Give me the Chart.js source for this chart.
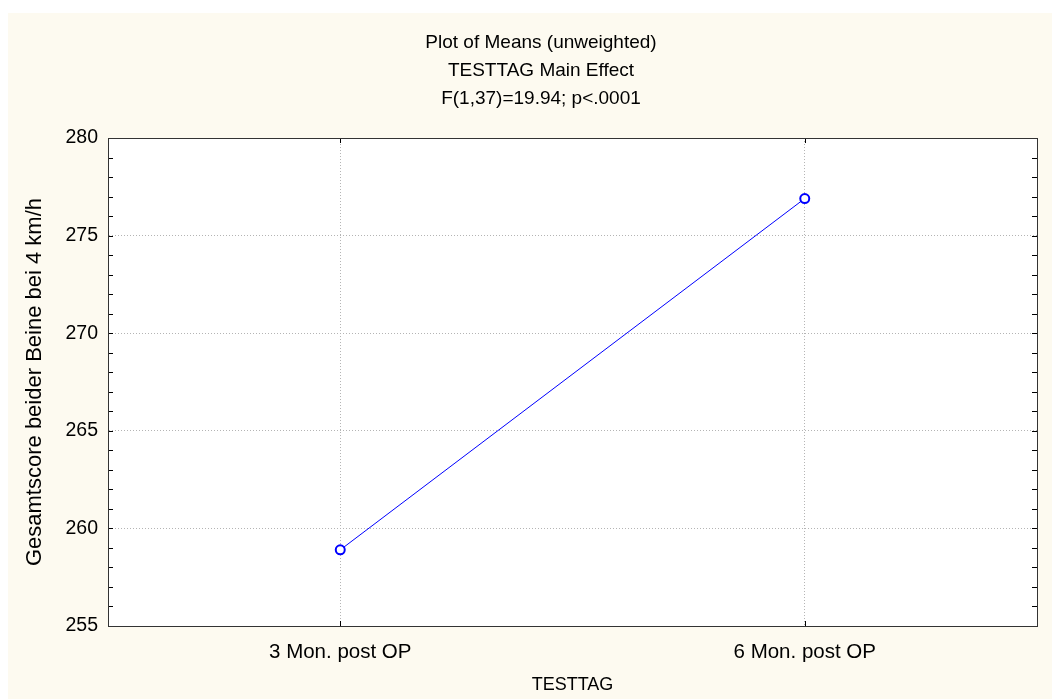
<!DOCTYPE html>
<html>
<head>
<meta charset="utf-8">
<script src="https://cdn.jsdelivr.net/npm/chart.js@4"></script>
<style>
  html, body { margin: 0; background: #ffffff; }
  #wrap { position: absolute; left: 8px; top: 13px; width: 1044px; height: 686px; background: #fdfaf0; }
</style>
</head>
<body>
<div id="wrap"><canvas id="chart"></canvas></div>
<script>
// data
const categories = ['3 Mon. post OP', '6 Mon. post OP'];
const means = [258.9, 276.9];
const yMin = 255;
const yMax = 280;
const yStep = 5;
const yMinorStep = 1;
const titleLines = ['Plot of Means (unweighted)', 'TESTTAG Main Effect', 'F(1,37)=19.94; p<.0001'];
const xTitle = 'TESTTAG';
const yTitle = 'Gesamtscore beider Beine bei 4 km/h';

const FONT = "'Liberation Sans', Arial, sans-serif";

// white plot area, black frame and small inner ticks like the original
const frame = {
  id: 'frame',
  beforeDraw(chart) {
    const { ctx, chartArea: a } = chart;
    ctx.save();
    ctx.fillStyle = '#ffffff';
    ctx.fillRect(a.left, a.top, a.right - a.left, a.bottom - a.top);
    ctx.restore();
  },
  afterDraw(chart) {
    const { ctx, chartArea: a, scales } = chart;
    ctx.save();
    ctx.strokeStyle = '#000000';
    ctx.lineWidth = 1;
    ctx.beginPath();
    for (let v = yMin; v <= yMax; v += yMinorStep) {
      const y = Math.round(scales.y.getPixelForValue(v)) + 0.5;
      ctx.moveTo(a.left, y); ctx.lineTo(a.left + 5, y);
      ctx.moveTo(a.right, y); ctx.lineTo(a.right - 5, y);
    }
    categories.forEach((c, i) => {
      const x = Math.round(scales.x.getPixelForValue(i)) + 0.5;
      ctx.moveTo(x, a.bottom); ctx.lineTo(x, a.bottom - 5);
      ctx.moveTo(x, a.top); ctx.lineTo(x, a.top + 5);
    });
    ctx.stroke();
    ctx.strokeStyle = '#333333';
    ctx.strokeRect(Math.round(a.left) + 0.5, Math.round(a.top) + 0.5,
      Math.round(a.right - a.left), Math.round(a.bottom - a.top));
    ctx.restore();
  }
};

new Chart(document.getElementById('chart'), {
  type: 'line',
  data: {
    labels: categories,
    datasets: [{
      data: means,
      borderColor: '#0000ff',
      borderWidth: 1,
      pointRadius: 4.5,
      pointBorderWidth: 2,
      pointBorderColor: '#0000ff',
      pointBackgroundColor: '#ffffff',
      tension: 0
    }]
  },
  options: {
    responsive: true,
    maintainAspectRatio: false,
    animation: false,
    layout: { padding: { left: 37, right: 15, top: 3, bottom: 0 } },
    plugins: {
      legend: { display: false },
      tooltip: { enabled: false },
      title: {
        display: true,
        text: titleLines,
        color: '#000000',
        font: { family: FONT, size: 19, weight: 'normal', lineHeight: 1.474 },
        padding: { top: 13, bottom: 25 }
      }
    },
    scales: {
      x: {
        type: 'category',
        offset: true,
        afterFit(s) { s.height = 73; },
        grid: { offset: false, drawTicks: false, color: '#b4b4b4' },
        border: { color: '#333333', dash: [1, 2] },
        ticks: { color: '#000000', padding: 14, font: { family: FONT, size: 20.5 } },
        title: {
          display: true, text: xTitle, color: '#000000',
          font: { family: FONT, size: 18 }, padding: { top: 0, bottom: 3 }
        }
      },
      y: {
        min: yMin,
        max: yMax,
        afterFit(s) { s.width = 63; },
        grid: { drawTicks: false, color: '#b4b4b4' },
        border: { color: '#333333', dash: [1, 2] },
        ticks: { stepSize: yStep, color: '#000000', padding: 10, font: { family: FONT, size: 19.5 } },
        title: {
          display: true, text: yTitle, color: '#000000',
          font: { family: FONT, size: 22 }, padding: { top: -23, bottom: 0 }
        }
      }
    }
  },
  plugins: [frame]
});
</script>
</body>
</html>
